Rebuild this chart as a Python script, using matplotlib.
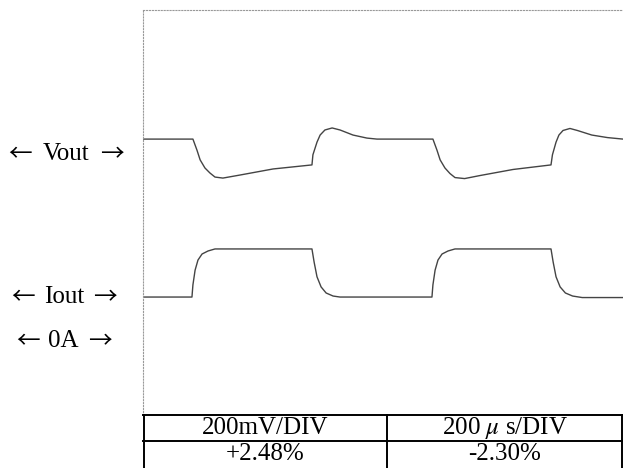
import matplotlib.pyplot as plt

plt.rcParams['mathtext.fontset'] = 'stix'

# time in microseconds (200 us/div), amplitude in screen divisions
vout_t = [0, 200, 208, 225, 238, 258, 279, 300, 333, 404, 542, 704,
          708, 725, 738, 758, 788, 821, 875, 933, 975, 1200,
          1208, 1225, 1238, 1258, 1279, 1300, 1340, 1404, 1542, 1700,
          1706, 1721, 1733, 1750, 1779, 1810, 1870, 1935, 2000]
vout_v = [5.45, 5.45, 5.45, 5.23, 5.04, 4.88, 4.78, 4.70, 4.68, 4.74, 4.86, 4.94,
          5.14, 5.39, 5.53, 5.63, 5.67, 5.63, 5.53, 5.47, 5.45, 5.45,
          5.45, 5.23, 5.04, 4.88, 4.77, 4.69, 4.67, 4.73, 4.85, 4.94,
          5.14, 5.39, 5.53, 5.62, 5.66, 5.62, 5.53, 5.48, 5.45]

iout_t = [0, 204, 208, 217, 229, 246, 271, 300, 704,
          713, 725, 742, 763, 792, 821, 1200,
          1204, 1208, 1217, 1229, 1246, 1271, 1300, 1700,
          1709, 1721, 1738, 1760, 1790, 1830, 2000]
iout_v = [2.33, 2.33, 2.57, 2.86, 3.06, 3.18, 3.24, 3.28, 3.28,
          3.02, 2.73, 2.53, 2.41, 2.35, 2.33, 2.33,
          2.33, 2.57, 2.86, 3.06, 3.18, 3.24, 3.28, 3.28,
          3.02, 2.73, 2.53, 2.41, 2.35, 2.32, 2.32]

side_words = ['Vout', 'Iout', '0A']
table_rows = [['200mV/DIV', '200 $\\mu$ s/DIV'], ['+2.48%', '-2.30%']]

serif = ['Liberation Serif', 'DejaVu Serif']
arrow_font = ['Noto Sans CJK JP', 'DejaVu Sans']
W, H = 623, 468

fig = plt.figure(figsize=(6.23, 4.68), dpi=100)
ax = fig.add_axes([143 / W, 53 / H, 480 / W, 405 / H])
ax.plot(vout_t, vout_v, color='#444444', lw=1.0)
ax.plot(iout_t, iout_v, color='#444444', lw=1.0)
ax.set_xlim(0, 2000)
ax.set_ylim(0, 8)
ax.set_xticks([])
ax.set_yticks([])
for s in ['right', 'bottom']:
    ax.spines[s].set_visible(False)
for s in ['left', 'top']:
    ax.spines[s].set_linestyle(':')
    ax.spines[s].set_color('#999999')
    ax.spines[s].set_linewidth(0.8)

# labels on the left: word with long arrows on both sides
# (word centre x, left arrow x, right arrow x, y) in pixels
label_pos = [(66, 20, 112, 154), (64, 23, 105, 297), (63, 28, 100, 341)]
for word, (xw, xl, xr, y) in zip(side_words, label_pos):
    fig.text(xw / W, 1 - y / H, word, ha='center', va='center',
             fontsize=18, family=serif)
    fig.text(xl / W, 1 - (y + 1) / H, '\u2190', ha='center', va='center',
             fontsize=17, family=arrow_font)
    fig.text(xr / W, 1 - (y + 1) / H, '\u2192', ha='center', va='center',
             fontsize=17, family=arrow_font)

# table under the trace
tab = fig.add_axes([143 / W, 0, 480 / W, 53 / H])
tab.set_xlim(0, 480)
tab.set_ylim(0, 53)
tab.axis('off')
kw = dict(color='black', lw=1.4, clip_on=False)
tab.plot([0, 480], [53, 53], **kw)
tab.plot([0, 480], [27, 27], **kw)
tab.plot([1, 1], [0, 53], **kw)
tab.plot([244, 244], [0, 53], **kw)
tab.plot([479, 479], [0, 53], **kw)
for r, y in enumerate([40, 13.5]):
    for c, x in enumerate([122, 362]):
        tab.text(x, y, table_rows[r][c], ha='center', va='center',
                 fontsize=18, family=serif)

fig.savefig('out.png', dpi=100)
